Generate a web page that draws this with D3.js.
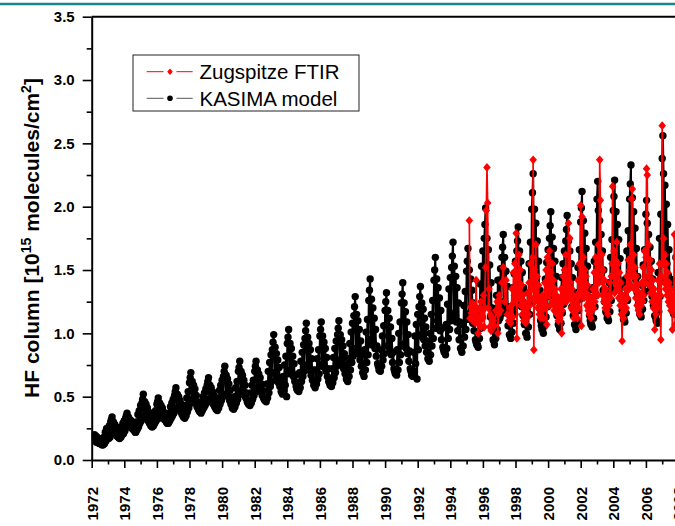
<!DOCTYPE html>
<html><head><meta charset="utf-8">
<script src="https://cdn.jsdelivr.net/npm/d3@7/dist/d3.min.js"></script>
<style>body{margin:0;background:#fff}svg{display:block}</style>
</head><body>
<svg id="chart" width="675" height="526"></svg>
<script>
// ---- data (24 samples per year, starting 1 Jan of the row's year) ----
const samplesPerYear = 24;
const kasimaYears = [1972,1973,1974,1975,1976,1977,1978,1979,1980,1981,1982,1983,1984,1985,1986,1987,1988,1989,1990,1991,1992,1993,1994,1995,1996,1997,1998,1999,2000,2001,2002,2003,2004,2005,2006,2007,2008];
const kasimaValues = [
[null,null,null,0.18,0.20,0.15,0.19,0.14,0.18,0.14,0.17,0.13,0.16,0.13,0.14,0.12,0.12,0.12,0.18,0.13,0.22,0.15,0.25,0.17],
[0.25,0.17,0.27,0.18,0.30,0.32,0.34,0.23,0.30,0.22,0.28,0.21,0.26,0.19,0.22,0.18,0.18,0.17,0.22,0.18,0.26,0.20,0.29,0.21],
[0.31,0.23,0.33,0.35,0.37,0.27,0.34,0.27,0.32,0.26,0.31,0.25,0.29,0.24,0.26,0.23,0.22,0.22,0.30,0.24,0.36,0.26,0.39,0.29],
[0.43,0.31,0.45,0.48,0.52,0.35,0.46,0.34,0.44,0.33,0.41,0.31,0.38,0.29,0.33,0.27,0.27,0.26,0.32,0.27,0.36,0.29,0.39,0.31],
[0.44,0.46,0.49,0.33,0.45,0.36,0.43,0.35,0.41,0.34,0.38,0.32,0.34,0.31,0.30,0.29,0.29,0.29,0.37,0.31,0.42,0.33,0.45,0.35],
[0.48,0.37,0.51,0.54,0.57,0.41,0.52,0.41,0.50,0.40,0.47,0.38,0.44,0.36,0.40,0.34,0.34,0.33,0.43,0.35,0.49,0.38,0.54,0.41],
[0.61,0.65,0.69,0.45,0.62,0.48,0.59,0.47,0.56,0.45,0.51,0.42,0.46,0.40,0.39,0.38,0.38,0.37,0.45,0.39,0.50,0.41,0.53,0.43],
[0.56,0.45,0.59,0.62,0.65,0.48,0.59,0.47,0.57,0.46,0.54,0.44,0.51,0.42,0.46,0.40,0.40,0.39,0.49,0.41,0.55,0.44,0.59,0.47],
[0.63,0.50,0.66,0.70,0.74,0.52,0.67,0.51,0.64,0.50,0.60,0.47,0.55,0.44,0.49,0.41,0.41,0.40,0.50,0.42,0.57,0.45,0.62,0.48],
[0.70,0.73,0.78,0.52,0.70,0.55,0.67,0.54,0.63,0.51,0.59,0.49,0.53,0.46,0.45,0.44,0.44,0.43,0.53,0.45,0.59,0.48,0.63,0.51],
[0.70,0.74,0.78,0.54,0.71,0.57,0.68,0.56,0.65,0.54,0.60,0.51,0.55,0.49,0.48,0.47,0.47,0.46,0.60,0.49,0.70,0.53,0.77,0.58],
[0.83,0.62,0.87,0.93,0.99,0.69,0.89,0.67,0.84,0.65,0.79,0.61,0.73,0.58,0.65,0.54,0.53,0.52,0.66,0.55,0.75,0.59,0.82,0.50],
[0.92,0.97,1.03,0.68,0.92,0.71,0.88,0.69,0.82,0.66,0.76,0.62,0.67,0.58,0.56,0.55,0.55,0.54,0.69,0.57,0.78,0.62,0.85,0.66],
[0.91,0.70,0.96,1.02,1.08,0.75,0.97,0.73,0.92,0.71,0.87,0.67,0.80,0.63,0.71,0.59,0.59,0.57,0.71,0.60,0.80,0.64,0.87,0.68],
[0.98,1.03,1.09,0.74,0.98,0.76,0.93,0.73,0.88,0.70,0.81,0.66,0.72,0.62,0.61,0.59,0.59,0.58,0.72,0.61,0.81,0.65,0.88,0.69],
[0.94,0.74,0.99,1.04,1.10,0.79,0.99,0.77,0.95,0.75,0.90,0.72,0.84,0.68,0.75,0.64,0.63,0.62,0.80,0.66,0.92,0.71,1.01,0.77],
[1.08,0.82,1.14,1.21,1.29,0.88,1.15,0.86,1.10,0.84,1.03,0.79,0.94,0.74,0.83,0.69,0.68,0.66,0.87,0.71,1.01,0.77,1.11,0.83],
[1.26,1.34,1.43,0.91,1.27,0.96,1.20,0.92,1.12,0.88,1.03,0.82,0.90,0.76,0.74,0.71,0.71,0.70,0.87,0.74,0.98,0.79,1.06,0.84],
[1.18,1.25,1.32,0.90,1.18,0.90,1.12,0.87,1.05,0.83,0.96,0.77,0.85,0.72,0.70,0.68,0.68,0.67,0.87,0.71,1.00,0.77,1.09,0.83],
[1.24,1.31,1.40,0.90,1.24,0.92,1.17,0.88,1.09,0.84,0.99,0.78,0.86,0.72,0.70,0.67,0.67,0.66,0.85,0.70,0.98,0.76,1.07,0.64],
[1.15,0.87,1.21,1.29,1.37,0.99,1.24,0.97,1.19,0.95,1.12,0.90,1.05,0.85,0.94,0.80,0.80,0.78,1.00,0.83,1.15,0.90,1.26,0.96],
[1.42,1.50,1.60,1.04,1.43,1.10,1.36,1.06,1.28,1.02,1.18,0.95,1.04,0.89,0.87,0.85,0.85,0.83,1.07,0.88,1.23,0.96,1.35,1.03],
[1.44,1.10,1.52,1.61,1.72,1.16,1.53,1.13,1.45,1.09,1.36,1.02,1.24,0.95,1.09,0.88,0.88,0.85,1.07,0.90,1.22,0.97,1.33,1.03],
[1.49,1.57,1.67,1.11,1.50,1.16,1.43,1.12,1.34,1.08,1.24,1.02,1.10,0.95,0.93,0.91,0.91,0.89,1.19,0.96,1.39,1.04,1.53,1.13],
[1.65,1.22,1.75,1.86,1.99,1.29,1.75,1.26,1.66,1.21,1.54,1.13,1.40,1.04,1.20,0.95,0.94,0.91,1.15,0.96,1.30,1.03,1.42,1.10],
[1.42,1.12,1.51,1.15,1.60,1.68,1.78,1.25,1.60,1.21,1.49,1.16,1.37,1.06,1.21,0.99,0.98,0.96,1.20,1.01,1.36,1.08,1.47,1.15],
[1.57,1.22,1.65,1.73,1.84,1.28,1.65,1.25,1.57,1.21,1.48,1.14,1.36,1.07,1.21,1.00,1.00,0.97,1.32,1.05,1.55,1.15,1.72,1.25],
[1.98,2.11,2.26,1.38,1.98,1.44,1.87,1.38,1.73,1.30,1.57,1.20,1.34,1.10,1.06,1.03,1.03,1.00,1.26,1.06,1.43,1.13,1.56,1.21],
[1.66,1.29,1.75,1.85,1.96,1.36,1.76,1.33,1.67,1.29,1.57,1.22,1.45,1.14,1.28,1.07,1.06,1.03,1.27,1.08,1.44,1.16,1.55,1.23],
[1.65,1.30,1.73,1.82,1.93,1.35,1.73,1.32,1.65,1.28,1.55,1.21,1.44,1.14,1.27,1.07,1.06,1.03,1.32,1.10,1.52,1.18,1.66,1.27],
[1.88,1.99,2.12,1.38,1.89,1.43,1.79,1.37,1.67,1.31,1.53,1.22,1.34,1.14,1.10,1.07,1.07,1.05,1.36,1.12,1.57,1.21,1.72,1.30],
[2.06,2.20,1.97,1.42,1.89,1.45,1.78,1.41,1.65,1.34,1.50,1.25,1.32,1.17,1.16,1.12,1.12,1.10,1.40,1.17,1.60,1.26,1.74,1.34],
[1.97,2.08,2.21,1.46,1.96,1.48,1.86,1.43,1.74,1.36,1.59,1.27,1.39,1.18,1.15,1.11,1.11,1.09,1.43,1.16,1.65,1.26,1.81,1.36],
[2.06,2.18,2.33,1.49,2.07,1.55,1.96,1.49,1.83,1.42,1.67,1.32,1.45,1.23,1.19,1.15,1.15,1.13,1.38,1.19,1.54,1.26,1.66,1.33],
[1.94,2.05,1.87,1.42,1.78,1.39,1.68,1.35,1.57,1.29,1.43,1.22,1.27,1.14,1.13,1.10,1.10,1.08,1.48,1.17,1.75,1.29,1.94,1.41],
[2.38,2.56,2.26,1.55,2.17,1.60,2.02,1.55,1.86,1.46,1.66,1.35,1.43,1.23,1.22,1.18,1.17,1.15,1.40,1.20,1.60,1.30,1.76,1.40],
[1.70,1.80,1.80,1.45]
];
const ftirYears = [1995,1996,1997,1998,1999,2000,2001,2002,2003,2004,2005,2006,2007,2008];
const ftirValues = [
[null,null,null,null,1.89,1.12,1.21,1.16,1.24,1.10,1.20,1.14,1.22,1.08,1.42,1.18,1.13,1.00,1.07,1.20,1.10,1.25,1.05,1.18],
[1.12,1.30,1.05,1.20,1.52,1.97,2.31,2.03,1.20,1.35,1.05,1.15,1.02,1.13,null,1.10,null,1.06,null,1.18,null,1.25,1.00,1.15],
[1.30,null,1.18,null,1.40,null,1.52,null,1.25,null,1.42,null,1.15,null,1.10,null,1.20,1.08,1.22,1.35,1.13,1.48,1.30,1.55],
[1.25,1.79,0.96,1.45,1.30,1.62,1.28,1.50,1.22,1.38,1.15,1.30,1.10,1.25,1.18,1.08,1.20,1.12,1.32,1.15,1.40,1.22,1.55,1.28],
[1.35,1.60,2.37,0.87,1.50,1.25,1.70,1.30,1.45,1.20,1.38,1.15,1.28,1.12,1.22,1.18,1.30,1.12,1.25,1.40,1.20,1.50,1.07,1.60],
[1.58,1.30,1.65,1.22,1.48,1.35,1.55,1.25,1.42,1.18,1.35,1.22,1.30,1.15,1.25,1.10,1.20,1.12,1.28,1.35,1.00,1.18,1.45,1.25],
[1.50,1.30,1.62,1.25,1.45,1.32,1.87,1.28,1.75,1.40,1.20,1.35,1.18,1.30,1.12,1.25,1.15,1.22,1.30,1.12,1.42,1.20,1.55,1.30],
[2.01,1.06,1.92,1.35,1.60,1.28,1.50,1.32,1.45,1.22,1.38,1.18,1.30,1.15,1.25,1.12,1.28,1.18,1.35,1.20,1.48,1.25,1.60,1.32],
[1.55,1.30,1.70,1.40,2.37,2.05,1.45,1.62,1.30,1.50,1.25,1.42,1.20,1.35,1.18,1.28,1.15,1.30,1.22,1.40,1.28,1.45,1.55,2.16],
[1.45,1.65,1.32,1.58,1.40,1.72,1.35,1.55,1.28,1.48,1.22,1.40,1.15,0.94,1.30,1.12,1.25,1.18,1.35,1.20,1.45,1.28,1.58,1.35],
[1.50,1.70,1.38,2.06,2.14,1.45,1.62,1.35,1.52,1.28,1.45,1.22,1.38,1.18,1.32,1.15,1.28,1.22,1.40,1.25,1.52,1.30,1.65,1.40],
[1.60,2.30,2.25,1.45,1.70,1.38,1.58,1.32,1.50,1.25,1.42,1.20,1.35,1.03,1.30,1.15,1.28,1.20,1.42,1.25,1.55,1.30,0.95,1.45],
[2.64,1.55,1.75,1.40,1.62,1.35,1.55,1.30,1.48,1.25,1.40,1.22,1.35,1.18,1.30,1.03,1.28,1.20,1.78,1.07,1.60,1.25,1.50,1.35],
[1.50,1.30,1.60,1.35]
];
const yMajorTicks = [0.0,0.5,1.0,1.5,2.0,2.5,3.0,3.5];
const yMinorTicks = [0.25,0.75,1.25,1.75,2.25,2.75,3.25];
const xMajorTicks = [1972,1974,1976,1978,1980,1982,1984,1986,1988,1990,1992,1994,1996,1998,2000,2002,2004,2006,2008];
const xMinorTicks = [1973,1975,1977,1979,1981,1983,1985,1987,1989,1991,1993,1995,1997,1999,2001,2003,2005,2007];
const legendLabels = ["Zugspitze FTIR","KASIMA model"];
const yTitle = {main1:"HF column [10", sup1:"15", main2:" molecules/cm", sup2:"2", main3:"]"};

// ---- build series ----
function toPoints(years, rows){
  const pts = [];
  rows.forEach((row, r) => row.forEach((v, i) => {
    if (v !== null) pts.push({t: years[r] + i / samplesPerYear, v: v});
  }));
  return pts;
}
const kasima = toPoints(kasimaYears, kasimaValues);
const ftir = toPoints(ftirYears, ftirValues);

// ---- layout ----
const FONT = "'Liberation Sans', Arial, Helvetica, sans-serif";
const svg = d3.select("#chart");
svg.append("rect").attr("width",675).attr("height",526).attr("fill","#fff");

const x = d3.scaleLinear().domain([1972, 2008]).range([91.7, 678.5]);
const y = d3.scaleLinear().domain([0, 3.5]).range([460, 16.7]);

// teal header line
svg.append("line").attr("x1",0).attr("x2",675).attr("y1",4).attr("y2",4)
  .attr("stroke","#17898a").attr("stroke-width",2.6);

// clip
svg.append("clipPath").attr("id","plotclip").append("rect")
  .attr("x",91.7).attr("y",10).attr("width",620).attr("height",452);

const plot = svg.append("g").attr("clip-path","url(#plotclip)");
const line = d3.line().x(d => x(d.t)).y(d => y(d.v));

// KASIMA
plot.append("path").datum(kasima).attr("d", line)
  .attr("fill","none").attr("stroke","#000").attr("stroke-width",2)
  .attr("stroke-linejoin","round");
plot.append("g").selectAll("circle").data(kasima).join("circle")
  .attr("cx", d => x(d.t)).attr("cy", d => y(d.v)).attr("r",3.7).attr("fill","#000");

// FTIR
plot.append("path").datum(ftir).attr("d", line)
  .attr("fill","none").attr("stroke","#ff0000").attr("stroke-width",1.7)
  .attr("stroke-linejoin","round");
const diamond = "M0,-4.4L3.8,0L0,4.4L-3.8,0Z";
plot.append("g").selectAll("path").data(ftir).join("path")
  .attr("d", diamond)
  .attr("transform", d => `translate(${x(d.t)},${y(d.v)})`)
  .attr("fill","#ff0000");

// frame top
svg.append("line").attr("x1",91.7).attr("x2",675).attr("y1",16.7).attr("y2",16.7)
  .attr("stroke","#000").attr("stroke-width",2);

// Y axis
svg.append("g").attr("transform","translate(91.7,0)")
  .call(d3.axisLeft(y).tickValues(yMajorTicks).tickFormat(d3.format(".1f")).tickSize(9).tickPadding(8).tickSizeOuter(0));
svg.append("g").attr("transform","translate(91.7,0)")
  .call(d3.axisLeft(y).tickValues(yMinorTicks).tickFormat("").tickSize(5).tickSizeOuter(0))
  .select(".domain").remove();

// X axis
const xAxis = svg.append("g").attr("transform","translate(0,460)")
  .call(d3.axisBottom(x).tickValues(xMajorTicks).tickFormat(d3.format("d")).tickSize(8).tickSizeOuter(0));
svg.append("g").attr("transform","translate(0,460)")
  .call(d3.axisBottom(x).tickValues(xMinorTicks).tickFormat("").tickSize(4.5).tickSizeOuter(0))
  .select(".domain").remove();
xAxis.select(".domain").attr("d", "M91.7,0.5H700");

xAxis.selectAll(".tick text")
  .attr("transform","rotate(-90)")
  .attr("x",-27).attr("y",0).attr("dy","0.36em")
  .style("text-anchor","end");

svg.selectAll(".domain").attr("stroke","#000").attr("stroke-width",2);
svg.selectAll(".tick line").attr("stroke","#000").attr("stroke-width",1.6);
svg.selectAll(".tick text").attr("fill","#000")
  .style("font-family",FONT).style("font-weight","bold").style("font-size","15px");

// Y title
const yt = svg.append("text")
  .attr("transform","translate(38.5,238) rotate(-90)")
  .attr("text-anchor","middle")
  .style("font-family",FONT).style("font-weight","bold").style("font-size","21px");
yt.append("tspan").text(yTitle.main1);
yt.append("tspan").attr("dy",-8).style("font-size","14px").text(yTitle.sup1);
yt.append("tspan").attr("dy",8).text(yTitle.main2);
yt.append("tspan").attr("dy",-8).style("font-size","14px").text(yTitle.sup2);
yt.append("tspan").attr("dy",8).text(yTitle.main3);

// Legend
const lg = svg.append("g");
lg.append("rect").attr("x",133).attr("y",55).attr("width",226).attr("height",56)
  .attr("fill","#fff").attr("stroke","#222").attr("stroke-width",1);
const rows = [
  {label: legendLabels[0], color:"#ff0000", line:"#ff0000", yy:71.7, shape:"diamond"},
  {label: legendLabels[1], color:"#000", line:"#555", yy:98.3, shape:"circle"}
];
rows.forEach(r => {
  lg.append("line").attr("x1",146.7).attr("x2",163.5).attr("y1",r.yy).attr("y2",r.yy)
    .attr("stroke",r.line).attr("stroke-width",1);
  lg.append("line").attr("x1",176.5).attr("x2",192.7).attr("y1",r.yy).attr("y2",r.yy)
    .attr("stroke",r.line).attr("stroke-width",1);
  if (r.shape === "diamond") {
    lg.append("path").attr("d","M0,-3.2L2.8,0L0,3.2L-2.8,0Z")
      .attr("transform",`translate(170,${r.yy})`).attr("fill",r.color);
  } else {
    lg.append("circle").attr("cx",170).attr("cy",r.yy).attr("r",2.8).attr("fill",r.color);
  }
  lg.append("text").attr("x",199.5).attr("y",r.yy+7.2)
    .style("font-family",FONT).style("font-size","20.5px").attr("fill","#000")
    .text(r.label);
});
</script>
</body></html>
